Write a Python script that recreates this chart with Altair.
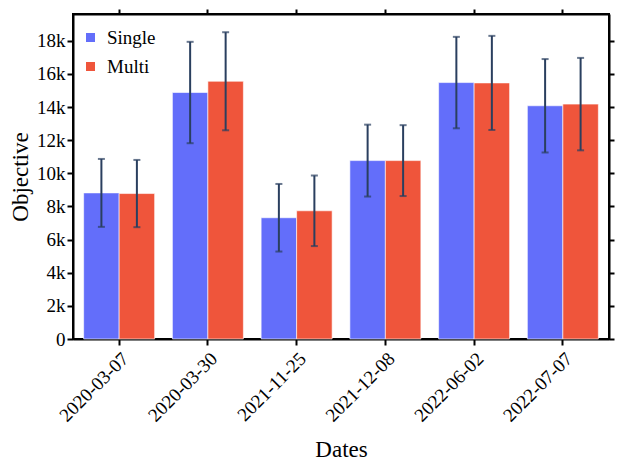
import altair as alt
import pandas as pd

dates = ["2020-03-07", "2020-03-30", "2021-11-25", "2021-12-08", "2022-06-02", "2022-07-07"]
single = [8820, 14880, 7320, 10770, 15480, 14080]
multi = [8780, 15560, 7740, 10770, 15460, 14180]
single_err = [2050, 3060, 2040, 2170, 2760, 2820]
multi_err = [2030, 2960, 2130, 2140, 2840, 2790]
series = ["Single", "Multi"]
colors = ["#636EFA", "#EF553B"]
yticks = list(range(0, 18001, 2000))

rows = []
for i, d in enumerate(dates):
    rows.append({"date": d, "series": "Single", "value": single[i],
                 "lo": single[i] - single_err[i], "hi": single[i] + single_err[i]})
    rows.append({"date": d, "series": "Multi", "value": multi[i],
                 "lo": multi[i] - multi_err[i], "hi": multi[i] + multi_err[i]})
df = pd.DataFrame(rows)

FONT = "Liberation Serif, serif"
xscale = alt.Scale(paddingInner=0.2, paddingOuter=0.12)
yscale = alt.Scale(domain=[0, 19620], nice=False)
cscale = alt.Scale(domain=series, range=colors)
oscale = alt.Scale(domain=series)

x_bottom = alt.X("date:N", sort=dates, scale=xscale, title="Dates",
                 axis=alt.Axis(orient="bottom", labelAngle=-45, labelFontSize=19,
                               titleFontSize=23, titlePadding=13, labelPadding=4,
                               tickSize=6, tickWidth=2, domainWidth=2,
                               domainColor="black", tickColor="black",
                               labelColor="black", titleFontWeight="normal",
                               titleColor="black", labelFont=FONT, titleFont=FONT))
x_top = alt.X("date:N", sort=dates, scale=xscale, title=None,
              axis=alt.Axis(orient="top", labels=False, tickSize=5, tickWidth=2,
                            domainWidth=2, domainColor="black", tickColor="black"))
y_left = alt.Y("value:Q", scale=yscale, title="Objective",
               axis=alt.Axis(orient="left", values=yticks,
                             labelExpr="datum.value == 0 ? '0' : (datum.value / 1000) + 'k'",
                             labelFontSize=19, titleFontSize=23, titlePadding=4,
                             tickSize=6, tickWidth=2, domainWidth=2, grid=False,
                             domainColor="black", tickColor="black", labelColor="black",
                             titleFontWeight="normal", titleColor="black",
                             labelFont=FONT, titleFont=FONT))
y_right = alt.Y("hi:Q", scale=yscale, title=None,
                axis=alt.Axis(orient="right", labels=False, values=yticks,
                              tickSize=5, tickWidth=2, domainWidth=2, grid=False,
                              domainColor="black", tickColor="black"))

bars = alt.Chart(df).mark_bar(stroke="white", strokeWidth=0.6).encode(
    x=x_bottom,
    xOffset=alt.XOffset("series:N", scale=oscale, sort=series),
    y=y_left,
    color=alt.Color("series:N", scale=cscale, sort=series,
                    legend=alt.Legend(title=None, orient="none", legendX=8, legendY=14,
                                      symbolType="square", symbolSize=81,
                                      symbolStrokeWidth=0, labelFontSize=19,
                                      labelFont=FONT,
                                      rowPadding=9, labelOffset=7, padding=0)),
)

rules = alt.Chart(df).mark_rule(color="#2a3f5f", strokeWidth=2).encode(
    x=x_top,
    xOffset=alt.XOffset("series:N", scale=oscale, sort=series),
    y=y_right,
    y2="lo:Q",
)

caps_hi = alt.Chart(df).mark_tick(color="#2a3f5f", thickness=2, size=7).encode(
    x=alt.X("date:N", sort=dates, scale=xscale, axis=None),
    xOffset=alt.XOffset("series:N", scale=oscale, sort=series),
    y=alt.Y("hi:Q", scale=yscale, axis=None),
)
caps_lo = alt.Chart(df).mark_tick(color="#2a3f5f", thickness=2, size=7).encode(
    x=alt.X("date:N", sort=dates, scale=xscale, axis=None),
    xOffset=alt.XOffset("series:N", scale=oscale, sort=series),
    y=alt.Y("lo:Q", scale=yscale, axis=None),
)

chart = alt.layer(bars, rules, caps_hi, caps_lo).resolve_axis(
    x="independent", y="independent"
).properties(
    width=536, height=325,
    autosize=alt.AutoSizeParams(type="none"),
    padding={"left": 65, "top": 6, "right": 6, "bottom": 128},
).configure(
    font=FONT,
).configure_view(
    stroke="black", strokeWidth=2,
).configure_axis(
    labelFont=FONT, titleFont=FONT,
).configure_legend(
    labelFont=FONT, labelColor="black",
)

chart.save("out.html", embed_options={"renderer": "svg", "actions": False})
